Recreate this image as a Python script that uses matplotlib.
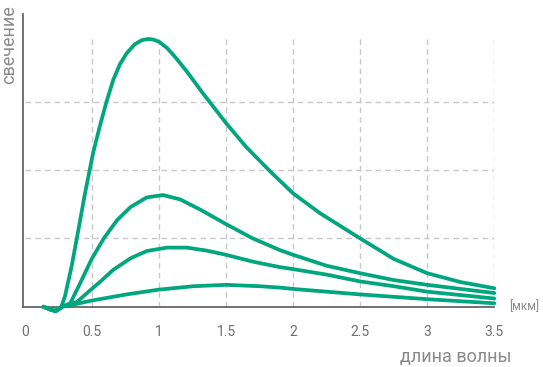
"""
Spectral radiance curves (свечение vs длина волны), redrawn from a reference picture.
"""

import matplotlib
matplotlib.use("Agg")
import matplotlib.pyplot as plt

# curve values (x in мкм, y in grid units)
wl_1 = [0.14, 0.19, 0.23, 0.27, 0.30, 0.35, 0.40, 0.45, 0.51, 0.56, 0.61, 0.66, 0.71, 0.76, 0.82,
        0.87, 0.92, 0.96, 1.00, 1.06, 1.12, 1.21, 1.33, 1.50, 1.65, 1.83, 2.00, 2.20, 2.50, 2.75,
        3.00, 3.25, 3.50]
rad_1 = [0.00, -0.04, -0.07, -0.02, 0.15, 0.59, 1.12, 1.66, 2.25, 2.64, 3.00, 3.32, 3.55, 3.71, 3.84,
         3.90, 3.92, 3.91, 3.88, 3.79, 3.66, 3.44, 3.12, 2.69, 2.34, 1.98, 1.66, 1.37, 1.00, 0.70,
         0.49, 0.36, 0.27]

wl_2 = [0.14, 0.19, 0.23, 0.28, 0.34, 0.41, 0.50, 0.59, 0.69, 0.79, 0.91, 1.03, 1.16, 1.31,
        1.50, 1.70, 1.90, 2.00, 2.25, 2.50, 2.75, 3.00, 3.25, 3.50]
rad_2 = [0.00, -0.04, -0.06, 0.00, 0.05, 0.33, 0.70, 1.00, 1.27, 1.46, 1.60, 1.635, 1.57, 1.42,
         1.21, 1.00, 0.83, 0.76, 0.60, 0.49, 0.39, 0.32, 0.26, 0.20]

wl_3 = [0.14, 0.19, 0.23, 0.28, 0.39, 0.50, 0.56, 0.66, 0.79, 0.91, 1.06, 1.21, 1.36, 1.50,
        1.70, 1.90, 2.00, 2.25, 2.50, 2.75, 3.00, 3.25, 3.50]
rad_3 = [0.00, -0.04, -0.06, 0.00, 0.07, 0.26, 0.36, 0.54, 0.71, 0.815, 0.865, 0.865, 0.82, 0.76,
         0.66, 0.58, 0.55, 0.47, 0.37, 0.30, 0.22, 0.17, 0.12]

wl_4 = [0.14, 0.19, 0.23, 0.28, 0.36, 0.50, 0.76, 1.00, 1.26, 1.50, 1.75, 1.90, 2.00, 2.50, 3.00, 3.50]
rad_4 = [0.00, -0.04, -0.06, 0.00, 0.03, 0.09, 0.18, 0.25, 0.30, 0.32, 0.30, 0.28, 0.26, 0.18, 0.11, 0.05]

x_ticks = [0, 0.5, 1, 1.5, 2, 2.5, 3, 3.5]
x_tick_labels = ["0", "0.5", "1", "1.5", "2", "2.5", "3", "3.5"]
y_grid = [1, 2, 3]

GREEN = "#00a67d"
TEXT = ["Roboto", "DejaVu Sans"]

fig = plt.figure(figsize=(5.43, 3.67), dpi=100)
ax = fig.add_axes([0.0424, 0.1643, 0.868, 0.7975])
ax.set_xlim(-0.012, 3.5)
ax.set_ylim(0, 4.285)

# dashed grid, only up to y=4 like the original
for x in x_ticks[1:]:
    ax.plot([x, x], [0, 3.98], color="#c8c8c8", lw=1, ls=(0, (4, 3)), zorder=1)
for y in y_grid:
    ax.plot([0, 3.5], [y, y], color="#c8c8c8", lw=1, ls=(0, (4, 3)), zorder=1)

for wl, rad in [(wl_4, rad_4), (wl_3, rad_3), (wl_2, rad_2), (wl_1, rad_1)]:
    ax.plot(wl, rad, color=GREEN, lw=2.7, solid_capstyle="round", solid_joinstyle="round",
            clip_on=False, zorder=3)

for side in ["top", "right"]:
    ax.spines[side].set_visible(False)
for side in ["left", "bottom"]:
    ax.spines[side].set_color("#666666")
    ax.spines[side].set_linewidth(1.3)

ax.set_yticks([])
ax.set_xticks(x_ticks)
ax.set_xticklabels(x_tick_labels, family=TEXT, fontsize=10, color="#6f6f6f")
ax.tick_params(axis="x", length=0, pad=13)

fig.text(511 / 543, 0.013, "длина волны", ha="right", va="baseline",
         family=TEXT, fontsize=13, color="#8a8a8a")
fig.text(9 / 543, 0.986, "свечение", ha="center", va="top", rotation=90,
         family=TEXT, fontsize=13, color="#8a8a8a")
fig.text(524 / 543, (367 - 307) / 367, "[мкм]", ha="center", va="center",
         family=TEXT, fontsize=8.5, color="#8a8a8a")

fig.savefig("out.png", dpi=100)
